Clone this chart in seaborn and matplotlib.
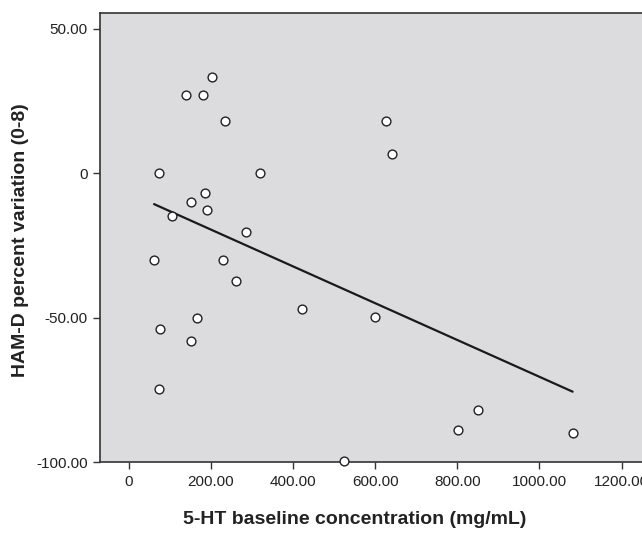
import pandas as pd
import matplotlib
matplotlib.use('Agg')
import matplotlib.pyplot as plt
import seaborn as sns

# данные
serotonin = [202.8, 140.3, 181.6, 233.1, 626.6, 639.8, 72.7, 318.9, 185.7, 152.4,
             189.7, 104.9, 284.6, 61.6, 230.1, 261.4, 420.8, 600.4, 165.5, 75.7,
             152.4, 74.7, 849.6, 801.2, 1080.7, 523.7]
hamd_var = [33.2, 27.1, 27.1, 18.0, 18.0, 6.8, 0.0, 0.0, -6.9, -10.1,
            -12.7, -14.7, -20.2, -30.1, -30.0, -37.5, -47.1, -49.9, -50.0, -53.8,
            -58.1, -74.8, -82.1, -88.8, -89.9, -99.8]

x_ticks = [0, 200, 400, 600, 800, 1000, 1200]
x_labels = ['0', '200.00', '400.00', '600.00', '800.00', '1000.00', '1200.00']
y_ticks = [50, 0, -50, -100]
y_labels = ['50.00', '0', '-50.00', '-100.00']

df = pd.DataFrame({'x': serotonin, 'y': hamd_var})

sns.set_style('ticks')
plt.rcParams['font.family'] = ['Liberation Sans', 'DejaVu Sans']

fig = plt.figure(figsize=(6.42, 5.33), dpi=100)
ax = fig.add_axes([0.1558, 0.1332, 0.87, 0.8426])
ax.set_facecolor('#dcdcde')

# точки + линия регрессии
sns.regplot(data=df, x='x', y='y', ci=None, ax=ax,
            scatter_kws={'s': 40, 'facecolor': 'white', 'edgecolor': '#222222',
                         'linewidths': 1.0, 'alpha': 1, 'zorder': 3, 'clip_on': False},
            line_kws={'color': '#1a1a1a', 'linewidth': 1.6, 'zorder': 2})

ax.set_xlim(-70, 1290)
ax.set_ylim(-100, 55.5)
ax.set_xticks(x_ticks)
ax.set_xticklabels(x_labels, fontsize=11, color='#222222')
ax.set_yticks(y_ticks)
ax.set_yticklabels(y_labels, fontsize=11, color='#222222')
ax.tick_params(axis='both', direction='out', length=5, width=1, color='#333333', pad=4)

for side in ['left', 'top', 'bottom', 'right']:
    ax.spines[side].set_color('#333333')
    ax.spines[side].set_linewidth(1.2)

# подписи осей - как в исходнике, по центру видимой области
ax.set(xlabel='', ylabel='')
fig.text(355 / 642, 1 - 520 / 533, '5-HT baseline concentration (mg/mL)',
         fontsize=14, fontweight='bold', color='#222222', ha='center', va='center')
fig.text(20.5 / 642, 1 - 240 / 533, 'HAM-D percent variation (0-8)',
         fontsize=14, fontweight='bold', color='#222222', ha='center', va='center',
         rotation=90)

fig.savefig('out.png', dpi=100)
